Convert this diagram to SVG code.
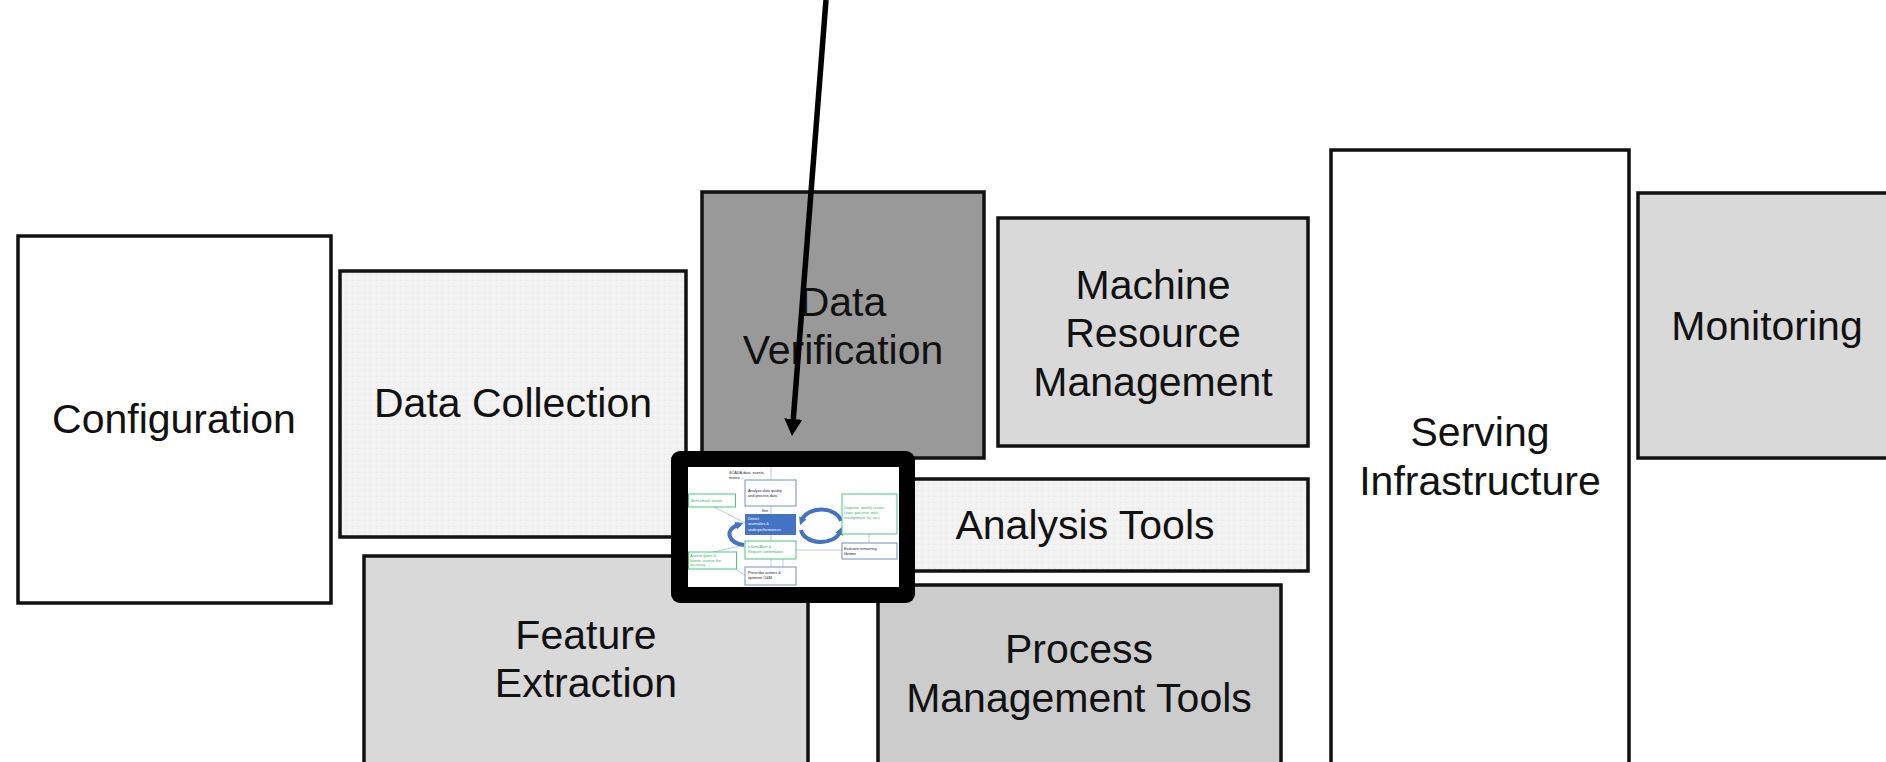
<svg xmlns="http://www.w3.org/2000/svg" width="1886" height="762" viewBox="0 0 1886 762">
<defs>
<pattern id="dots" width="6" height="6" patternUnits="userSpaceOnUse">
<rect width="6" height="6" fill="#f2f2f2"/>
<circle cx="1.5" cy="1.5" r="0.7" fill="#fcfcfc"/>
<circle cx="4.5" cy="4.5" r="0.7" fill="#e6e6e6"/>
</pattern>
<marker id="bigHead" markerUnits="userSpaceOnUse" viewBox="0 0 17 18" markerWidth="17" markerHeight="18" refX="0" refY="9" orient="auto">
<path d="M0,0 L17,9 L0,18 z" fill="#000"/>
</marker>
<marker id="blueHead" markerUnits="userSpaceOnUse" viewBox="0 0 10 10" markerWidth="8" markerHeight="8" refX="3" refY="5" orient="auto">
<path d="M0,0 L10,5 L0,10 z" fill="#4472c4"/>
</marker>
</defs>
<style>
.box{stroke:#111;stroke-width:3.5}
.lbl{font-family:"Liberation Sans",Arial,sans-serif;font-size:41px;fill:#111;text-anchor:middle}
.t{font-family:"Liberation Sans",Arial,sans-serif;font-size:3.8px;fill:#222}
.tg{font-family:"Liberation Sans",Arial,sans-serif;font-size:3.8px;fill:#2fb866}
.tw{font-family:"Liberation Sans",Arial,sans-serif;font-size:3.8px;fill:#fff}
.bb{fill:#fff;stroke:#6f8fcf;stroke-width:1}
.gb{fill:#fff;stroke:#45c97d;stroke-width:1}
.ln{stroke:#9db3e0;stroke-width:0.7;fill:none}
.cyc{stroke:#4472c4;stroke-width:4;fill:none}
</style>
<rect width="1886" height="762" fill="#fff"/>

<g id="data-collection">
<rect class="box" x="340" y="271" width="346" height="266" fill="url(#dots)"/>
<text class="lbl" x="513" y="417">Data Collection</text>
</g>
<g id="configuration">
<rect class="box" x="18" y="236" width="313" height="367" fill="#fff"/>
<text class="lbl" x="174" y="433">Configuration</text>
</g>
<g id="feature-extraction">
<rect class="box" x="364" y="556" width="444" height="220" fill="#d9d9d9"/>
<text class="lbl" x="586" y="649">Feature</text>
<text class="lbl" x="586" y="697">Extraction</text>
</g>
<g id="data-verification">
<rect class="box" x="702" y="192" width="282" height="266" fill="#999999"/>
<text class="lbl" x="843" y="316">Data</text>
<text class="lbl" x="843" y="364">Verification</text>
</g>
<g id="machine-resource-management">
<rect class="box" x="998" y="218" width="310" height="228" fill="#d9d9d9"/>
<text class="lbl" x="1153" y="299">Machine</text>
<text class="lbl" x="1153" y="347">Resource</text>
<text class="lbl" x="1153" y="396">Management</text>
</g>
<g id="analysis-tools">
<rect class="box" x="862" y="479" width="446" height="92" fill="url(#dots)"/>
<text class="lbl" x="1085" y="539">Analysis Tools</text>
</g>
<g id="process-management-tools">
<rect class="box" x="878" y="585" width="403" height="190" fill="#cccccc"/>
<text class="lbl" x="1079" y="663">Process</text>
<text class="lbl" x="1079" y="712">Management Tools</text>
</g>
<g id="serving-infrastructure">
<rect class="box" x="1331" y="150" width="298" height="625" fill="#fff"/>
<text class="lbl" x="1480" y="446">Serving</text>
<text class="lbl" x="1480" y="495">Infrastructure</text>
</g>
<g id="monitoring">
<rect class="box" x="1638" y="193" width="260" height="265" fill="#d9d9d9"/>
<text class="lbl" x="1767" y="340">Monitoring</text>
</g>

<g id="inset">
<rect x="671" y="451" width="244" height="152" rx="9" fill="#000"/>
<rect x="688" y="467" width="211" height="120" fill="#fff"/>
<g id="inset-lines">
<line class="ln" x1="771" y1="467" x2="771" y2="480"/>
<line class="ln" x1="771" y1="506" x2="771" y2="514"/>
<line class="ln" x1="771" y1="535" x2="771" y2="541"/>
<line class="ln" x1="771" y1="559" x2="771" y2="567"/>
<line class="ln" x1="783" y1="559" x2="783" y2="567"/>
<line class="ln" x1="869" y1="534" x2="869" y2="543"/>
<line class="ln" x1="842" y1="550" x2="796" y2="550"/>
<line class="ln" x1="714" y1="507" x2="745" y2="523"/>
<line class="ln" x1="745" y1="545" x2="713" y2="552"/>
<line class="ln" x1="737" y1="570" x2="745" y2="575"/>
<path class="cyc" d="M841,521 A20,14 0 0 0 802,520" marker-end="url(#blueHead)"/>
<path class="cyc" d="M801,530 A20,14 0 0 0 840,532" marker-end="url(#blueHead)"/>
<path class="cyc" d="M744,545 C728,543 724,530 738,525" marker-end="url(#blueHead)"/>
</g>
<g id="inset-scada">
<text class="t" x="729" y="474">SCADA data, events,</text>
<text class="t" x="729" y="479">meteo ...</text>
</g>
<g id="inset-analyze">
<rect class="bb" x="745" y="480" width="51" height="26"/>
<text class="t" x="748" y="492">Analyze data quality</text>
<text class="t" x="748" y="497">and process data</text>
</g>
<text class="t" x="762" y="512" style="font-size:3.4px">filter</text>
<g id="inset-detect">
<rect x="745" y="514" width="51" height="21" fill="#4472c4"/>
<text class="tw" x="748" y="520">Detect</text>
<text class="tw" x="748" y="525">anomalies &amp;</text>
<text class="tw" x="748" y="530.5">underperformances</text>
</g>
<g id="inset-inform">
<rect class="gb" x="745" y="541" width="51" height="18"/>
<text class="tg" x="748" y="548">Inform/Alert &amp;</text>
<text class="tg" x="748" y="553">Require confirmation</text>
</g>
<g id="inset-prescribe">
<rect class="bb" x="745" y="567" width="51" height="18"/>
<text class="t" x="748" y="574">Prescribe actions &amp;</text>
<text class="t" x="748" y="579">optimize O&amp;M</text>
</g>
<g id="inset-benchmark">
<rect class="gb" x="688.5" y="494" width="47" height="13"/>
<text class="tg" x="691" y="502">Benchmark assets</text>
</g>
<g id="inset-assess">
<rect class="gb" x="688.5" y="552" width="48" height="17"/>
<text class="tg" x="690" y="557">Assess gains &amp;</text>
<text class="tg" x="690" y="561.5">losses, assess the</text>
<text class="tg" x="690" y="566">accuracy</text>
</g>
<g id="inset-diagnose">
<rect class="gb" x="842" y="494" width="55" height="40"/>
<text class="tg" x="844" y="509" style="font-size:3.5px">Diagnose: identify causes</text>
<text class="tg" x="844" y="514" style="font-size:3.5px">(static yaw error, pitch</text>
<text class="tg" x="844" y="519" style="font-size:3.5px">misalignment, ice, etc.)</text>
</g>
<g id="inset-evaluate">
<rect class="bb" x="842" y="543" width="55" height="16"/>
<text class="t" x="844" y="550">Evaluate remaining</text>
<text class="t" x="844" y="555">lifetime</text>
</g>
</g>

<g id="connectors">
<line x1="826" y1="0" x2="793.3" y2="419" stroke="#000" stroke-width="5.5" marker-end="url(#bigHead)"/>
</g>
</svg>
